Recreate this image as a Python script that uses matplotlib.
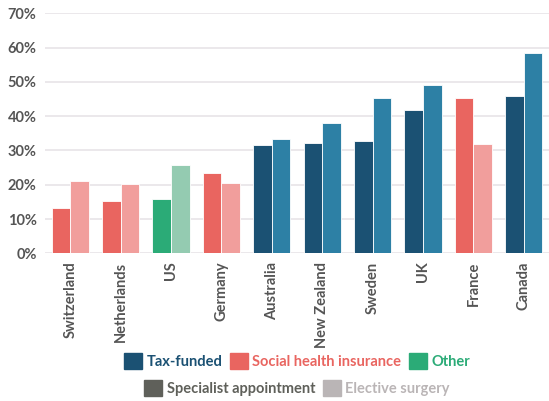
import matplotlib
matplotlib.use("Agg")
import matplotlib.pyplot as plt
from matplotlib.patches import Patch
import numpy as np

countries = ["Switzerland", "Netherlands", "US", "Germany", "Australia",
             "New Zealand", "Sweden", "UK", "France", "Canada"]
specialist = [13.1, 15.2, 15.9, 23.4, 31.5, 32.1, 32.7, 41.8, 45.4, 46.0]
elective = [21.1, 20.3, 25.8, 20.5, 33.2, 38.1, 45.4, 49.0, 31.8, 58.3]
system = ["social", "social", "other", "social", "tax",
          "tax", "tax", "tax", "social", "tax"]

dark = {"tax": "#1b5173", "social": "#e96560", "other": "#2bab77"}
light = {"tax": "#2d80a5", "social": "#f19e9c", "other": "#94cbb1"}

plt.rcParams["font.family"] = ["Lato", "DejaVu Sans"]
txt = "#555555"

fig = plt.figure(figsize=(5.49, 4.01), dpi=100)
ax = fig.add_axes([45/549, 1-253.3/401, 504/549, 240/401])

x = np.arange(len(countries))
w = 0.37
for i in x:
    ax.bar(i - w/2, specialist[i], width=w, color=dark[system[i]],
           edgecolor="white", linewidth=0.6, zorder=3)
    ax.bar(i + w/2, elective[i], width=w, color=light[system[i]],
           edgecolor="white", linewidth=0.6, zorder=3)

ax.set_xlim(-0.5, 9.5)
ax.set_ylim(0, 70)
ax.set_yticks(range(0, 71, 10))
ax.set_yticklabels([f"{v}%" for v in range(0, 71, 10)], fontsize=10.5,
                   fontweight="bold", color=txt)
ax.set_xticks(x)
ax.set_xticklabels(countries, rotation=90, fontsize=10.5, fontweight="bold",
                   color=txt)
ax.tick_params(axis="both", length=0, pad=6)
ax.grid(axis="y", color="#e8e4e8", linewidth=1.2, zorder=0)
for s in ax.spines.values():
    s.set_visible(False)

h1 = [Patch(color=dark["tax"]), Patch(color=dark["social"]), Patch(color=dark["other"])]
l1 = ["Tax-funded", "Social health insurance", "Other"]
leg1 = fig.legend(h1, l1, loc="center", bbox_to_anchor=(297/549, 1-361/401),
                  ncol=3, frameon=False, handlelength=1.25, handleheight=1.25,
                  handletextpad=0.3, columnspacing=0.5,
                  prop={"size": 10.5, "weight": "bold"})
for t, c in zip(leg1.get_texts(), [dark["tax"], dark["social"], dark["other"]]):
    t.set_color(c)

h2 = [Patch(color="#5f605a"), Patch(color="#bab5b6")]
l2 = ["Specialist appointment", "Elective surgery"]
leg2 = fig.legend(h2, l2, loc="center", bbox_to_anchor=(297/549, 1-388/401),
                  ncol=2, frameon=False, handlelength=1.25, handleheight=1.25,
                  handletextpad=0.3, columnspacing=0.5,
                  prop={"size": 10.5, "weight": "bold"})
for t, c in zip(leg2.get_texts(), ["#5f605a", "#bab5b6"]):
    t.set_color(c)

fig.savefig("out.png", dpi=100)
